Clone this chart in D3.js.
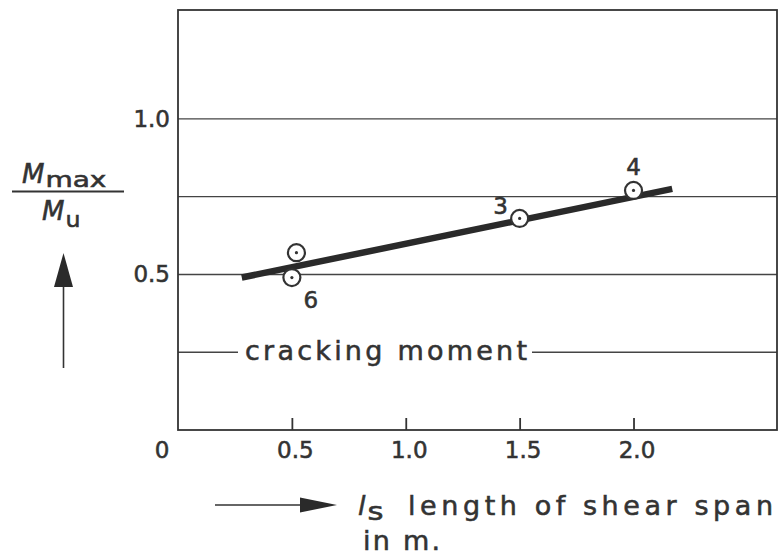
<!DOCTYPE html>
<html>
<head>
<meta charset="utf-8">
<script src="https://cdn.jsdelivr.net/npm/d3@7"></script>
<style>
  body { margin: 0; background: #fff; }
  svg text { font-family: 'DejaVu Sans', sans-serif; fill: #333; stroke: #333; stroke-width: 0.55px; }
</style>
</head>
<body>
<div id="chart"></div>
<script>
// values
var xTicks = [0.5, 1.0, 1.5, 2.0]
var yTicks = [0.5, 1.0]
var gridValues = [0.5, 0.75, 1.0]
var crackingValue = 0.25
var pointX = [0.50, 0.52, 1.50, 2.00]
var pointY = [0.49, 0.57, 0.68, 0.77]
var pointLabels = ['6', '', '3', '4']
var fitX = [0.28, 2.17]
var fitY = [0.49, 0.775]

var width = 779, height = 558
var ink = '#333'

var svg = d3.select('#chart').append('svg')
	.attr('width', width)
	.attr('height', height)

var x = d3.scaleLinear().domain([0, 2.63]).range([178, 777])
var y = d3.scaleLinear().domain([0, 1.35]).range([430, 10])

// grid lines
svg.append('g')
	.selectAll('line')
	.data(gridValues)
	.enter()
	.append('line')
	.attr('x1', x(0))
	.attr('x2', x.range()[1])
	.attr('y1', function(d){ return y(d) })
	.attr('y2', function(d){ return y(d) })
	.attr('stroke', '#444')
	.attr('stroke-width', 1.4)

// cracking moment line, broken by its label
var crack = svg.append('text')
	.attr('x', 245)
	.attr('y', y(crackingValue) + 8)
	.style('font-size', '27px')
	.attr('textLength', 282)
	.attr('lengthAdjust', 'spacing')
	.text('cracking  moment')
var cb = crack.node().getBBox()
svg.selectAll('.crack')
	.data([[x(0), cb.x - 7], [cb.x + cb.width + 5, x.range()[1]]])
	.enter()
	.append('line')
	.attr('class', 'crack')
	.attr('x1', function(d){ return d[0] })
	.attr('x2', function(d){ return d[1] })
	.attr('y1', y(crackingValue))
	.attr('y2', y(crackingValue))
	.attr('stroke', '#444')
	.attr('stroke-width', 1.4)

// frame
svg.append('rect')
	.attr('x', x(0))
	.attr('y', y.range()[1])
	.attr('width', x.range()[1] - x(0))
	.attr('height', y(0) - y.range()[1])
	.attr('fill', 'none')
	.attr('stroke', ink)
	.attr('stroke-width', 1.8)

// x axis, ticks pointing inward
var xAxis = svg.append('g')
	.attr('transform', 'translate(0,' + y(0) + ')')
	.call(d3.axisBottom(x).tickValues(xTicks).tickSizeInner(-12).tickSizeOuter(0).tickFormat(d3.format('.1f')))
xAxis.select('.domain').remove()
xAxis.selectAll('line').attr('stroke', ink).attr('stroke-width', 1.8)
xAxis.selectAll('text')
	.attr('y', 28)
	.attr('dy', 0)
	.attr('dx', 3)
	.style('font-size', '23px')
	.style('font-family', "'DejaVu Sans', sans-serif")
	.attr('fill', ink)
svg.append('text')
	.attr('x', x(0) - 16)
	.attr('y', y(0) + 28)
	.attr('text-anchor', 'middle')
	.style('font-size', '23px')
	.text('0')

// y axis labels
var yAxis = svg.append('g')
	.attr('transform', 'translate(' + x(0) + ',0)')
	.call(d3.axisLeft(y).tickValues(yTicks).tickSize(0).tickPadding(8).tickFormat(d3.format('.1f')))
yAxis.select('.domain').remove()
yAxis.selectAll('text')
	.style('font-size', '23px')
	.style('font-family', "'DejaVu Sans', sans-serif")
	.attr('fill', ink)

// fitted line
svg.append('line')
	.attr('x1', x(fitX[0]))
	.attr('y1', y(fitY[0]))
	.attr('x2', x(fitX[1]))
	.attr('y2', y(fitY[1]))
	.attr('stroke', '#2a2a2a')
	.attr('stroke-width', 6.5)

// test points
var points = pointX.map(function(d, i){
	return { x: d, y: pointY[i], label: pointLabels[i] }
})
var labelOffset = { '6': [19, 22], '3': [-19, -12], '4': [0, -23] }
var pt = svg.append('g')
	.selectAll('g')
	.data(points)
	.enter()
	.append('g')
	.attr('transform', function(d){ return 'translate(' + x(d.x) + ',' + y(d.y) + ')' })
pt.append('circle')
	.attr('r', 8.5)
	.attr('fill', '#fff')
	.attr('stroke', ink)
	.attr('stroke-width', 2.2)
pt.append('circle')
	.attr('r', 1.6)
	.attr('fill', ink)
pt.filter(function(d){ return d.label !== '' })
	.append('text')
	.attr('x', function(d){ return labelOffset[d.label][0] })
	.attr('y', function(d){ return labelOffset[d.label][1] + 8 })
	.attr('text-anchor', 'middle')
	.style('font-size', '23px')
	.text(function(d){ return d.label })

// y label: M max / M u with arrow
var ylab = svg.append('text')
	.attr('x', 22)
	.attr('y', 183)
ylab.append('tspan').style('font-style', 'italic').style('font-size', '26px').text('M')
ylab.append('tspan').attr('dy', 4).attr('dx', 1).style('font-size', '21px').attr('textLength', 61).attr('lengthAdjust', 'spacingAndGlyphs').text('max')
svg.append('line')
	.attr('x1', 12).attr('x2', 124)
	.attr('y1', 191.5).attr('y2', 191.5)
	.attr('stroke', ink)
	.attr('stroke-width', 2)
var ylab2 = svg.append('text')
	.attr('x', 42)
	.attr('y', 220)
ylab2.append('tspan').style('font-style', 'italic').style('font-size', '26px').text('M')
ylab2.append('tspan').attr('dy', 7).attr('dx', 1).style('font-size', '22px').attr('textLength', 15).attr('lengthAdjust', 'spacingAndGlyphs').text('u')

svg.append('line')
	.attr('x1', 63.5).attr('x2', 63.5)
	.attr('y1', 368).attr('y2', 284)
	.attr('stroke', ink)
	.attr('stroke-width', 1.6)
svg.append('path')
	.attr('d', 'M63.5,253 L54,287 L73,287 Z')
	.attr('fill', '#2a2a2a')

// x label with arrow
svg.append('line')
	.attr('x1', 215).attr('x2', 302)
	.attr('y1', 505).attr('y2', 505)
	.attr('stroke', ink)
	.attr('stroke-width', 1.6)
svg.append('path')
	.attr('d', 'M337,505 L300,497.5 L300,512.5 Z')
	.attr('fill', '#2a2a2a')

var xlab = svg.append('text')
	.attr('x', 358)
	.attr('y', 515)
	.style('font-size', '27px')
xlab.append('tspan').style('font-style', 'italic').text('l')
xlab.append('tspan').attr('dy', 5).attr('dx', 2).style('font-size', '24px').attr('textLength', 16).attr('lengthAdjust', 'spacingAndGlyphs').text('s')
svg.append('text')
	.attr('x', 408)
	.attr('y', 515)
	.style('font-size', '27px')
	.attr('textLength', 365)
	.attr('lengthAdjust', 'spacing')
	.text('length of shear  span')
svg.append('text')
	.attr('x', 363)
	.attr('y', 550)
	.style('font-size', '27px')
	.attr('textLength', 77)
	.attr('lengthAdjust', 'spacing')
	.text('in m.')
</script>
</body>
</html>
